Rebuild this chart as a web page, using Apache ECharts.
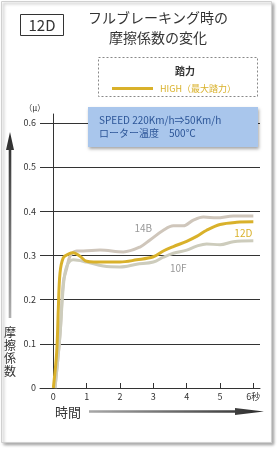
<!DOCTYPE html>
<html><head><meta charset="utf-8">
<script src="https://cdn.jsdelivr.net/npm/echarts@6/dist/echarts.min.js"></script>
<style>html,body{margin:0;padding:0;background:#fff;}#c{width:280px;height:450px;}</style>
</head><body><div id="c"></div>
<script>
const xTicks = [0, 1, 2, 3, 4, 5, 6];
const yTicks = [0, 0.1, 0.2, 0.3, 0.4, 0.5, 0.6];

const t12D = [0, 0.1, 0.15, 0.2, 0.3, 0.45, 0.6, 0.8, 1.0, 1.5, 2.0, 2.5, 3.0, 3.3, 3.6, 4.0, 4.3, 4.6, 5.0, 5.5, 6.0];
const v12D = [0, 0.08, 0.18, 0.26, 0.295, 0.303, 0.306, 0.298, 0.287, 0.285, 0.285, 0.29, 0.297, 0.31, 0.32, 0.332, 0.343, 0.357, 0.37, 0.375, 0.376];

const t14B = [0.05, 0.2, 0.3, 0.4, 0.5, 0.7, 0.9, 1.4, 2.1, 2.6, 2.9, 3.3, 3.6, 3.9, 4.2, 4.5, 4.9, 5.4, 6.0];
const v14B = [0, 0.12, 0.24, 0.27, 0.298, 0.31, 0.31, 0.312, 0.308, 0.319, 0.335, 0.357, 0.367, 0.367, 0.38, 0.387, 0.385, 0.389, 0.389];

const t10F = [0.05, 0.2, 0.3, 0.4, 0.6, 1.0, 1.5, 2.0, 2.5, 3.0, 3.3, 3.6, 4.0, 4.3, 4.6, 5.0, 5.4, 6.0];
const v10F = [0, 0.12, 0.23, 0.275, 0.29, 0.285, 0.276, 0.274, 0.28, 0.285, 0.296, 0.305, 0.312, 0.321, 0.326, 0.324, 0.331, 0.333];

const legendName = 'HIGH（最大踏力）';
const FONT = '"Noto Sans CJK JP", "Noto Sans", sans-serif';
const GOLD = '#d9b12a';

function pairs(t, v) { return t.map((x, i) => [x, v[i]]); }
function tag(text, x, y, color) {
  return {
    symbol: 'circle', symbolSize: 1, silent: true,
    itemStyle: { color: 'rgba(0,0,0,0)' },
    label: { show: true, position: 'inside', formatter: text, color: color, fontSize: 10, fontFamily: FONT },
    data: [{ coord: [x, y] }]
  };
}

const chart = echarts.init(document.getElementById('c'), null, { renderer: 'canvas' });
chart.setOption({
  animation: false,
  textStyle: { fontFamily: FONT },
  grid: { left: 40, right: 20, top: 114, bottom: 62 },
  legend: {
    left: 107, top: 79, itemWidth: 41, itemHeight: 3, itemGap: 8,
    data: [{ name: legendName, icon: 'rect' }],
    textStyle: { color: GOLD, fontSize: 9, fontFamily: FONT, padding: [0, 0, 0, 2] },
    selectedMode: false
  },
  xAxis: {
    type: 'value', min: -0.4, max: 6.2,
    axisLine: { lineStyle: { color: '#333', width: 1 } },
    axisTick: { show: true, inside: true, length: 5, customValues: xTicks, lineStyle: { color: '#333' } },
    axisLabel: { customValues: xTicks, color: '#333', fontSize: 9, margin: 4,
      formatter: v => v === 6 ? '6秒' : String(v) },
    splitLine: { show: false }
  },
  yAxis: {
    type: 'value', min: 0, max: 0.62,
    name: '（μ）', nameLocation: 'end', nameGap: 2,
    nameTextStyle: { color: '#333', fontSize: 8, align: 'right', padding: [0, 8, 0, 0] },
    axisLine: { show: true, lineStyle: { color: '#333', width: 1 } },
    axisTick: { show: false, customValues: yTicks },
    axisLabel: { customValues: yTicks, color: '#333', fontSize: 9, margin: 4,
      formatter: v => v === 0 ? '0' : v.toFixed(1) },
    splitLine: { show: true, lineStyle: { color: '#333', width: 1 } }
  },
  series: [
    { name: '14B', type: 'line', smooth: 0.35, symbol: 'none', data: pairs(t14B, v14B),
      lineStyle: { color: '#cfc6bb', width: 3 }, itemStyle: { color: '#cfc6bb' },
      markPoint: tag('14B', 2.7, 0.362, '#999') },
    { name: '10F', type: 'line', smooth: 0.35, symbol: 'none', data: pairs(t10F, v10F),
      lineStyle: { color: '#cdccbc', width: 3 }, itemStyle: { color: '#cdccbc' },
      markPoint: tag('10F', 3.75, 0.272, '#999') },
    { name: legendName, type: 'line', smooth: 0.35, symbol: 'none', data: pairs(t12D, v12D),
      lineStyle: { color: GOLD, width: 3 }, itemStyle: { color: GOLD },
      markPoint: tag('12D', 5.7, 0.351, GOLD) }
  ],
  graphic: [
    { type: 'rect', z: -10, shape: { x: 1.5, y: 1.5, width: 270, height: 441 },
      style: { fill: '#fff', stroke: '#d0d0d0', lineWidth: 1, shadowBlur: 3, shadowOffsetX: 2, shadowOffsetY: 2, shadowColor: 'rgba(0,0,0,0.35)' } },
    { type: 'rect', shape: { x: 20.5, y: 14.5, width: 43, height: 21 },
      style: { fill: 'none', stroke: '#333', lineWidth: 1 } },
    { type: 'text', x: 42, y: 25, style: { text: '12D', fill: '#333', font: '15px ' + FONT, align: 'center', verticalAlign: 'middle' } },
    { type: 'text', x: 158, y: 18, style: { text: 'フルブレーキング時の', fill: '#333', font: '14px ' + FONT, align: 'center', verticalAlign: 'middle' } },
    { type: 'text', x: 158, y: 38, style: { text: '摩擦係数の変化', fill: '#333', font: '14px ' + FONT, align: 'center', verticalAlign: 'middle' } },
    { type: 'rect', shape: { x: 98.5, y: 57.5, width: 159, height: 39 },
      style: { fill: 'none', stroke: '#888', lineWidth: 1, lineDash: [2, 2] } },
    { type: 'text', x: 185, y: 71, style: { text: '踏力', fill: '#333', font: 'bold 10px ' + FONT, align: 'center', verticalAlign: 'middle' } },
    { type: 'rect', z: 50, shape: { x: 88, y: 107, width: 170, height: 40 },
      style: { fill: '#a9c6ec', shadowBlur: 3, shadowOffsetX: 1, shadowOffsetY: 2, shadowColor: 'rgba(0,0,0,0.35)' } },
    { type: 'text', z: 51, x: 99, y: 120, style: { text: 'SPEED 220Km/h⇒50Km/h', fill: '#2c5597', font: '10px ' + FONT, verticalAlign: 'middle' } },
    { type: 'text', z: 51, x: 99, y: 133.5, style: { text: 'ローター温度　500℃', fill: '#2c5597', font: '10px ' + FONT, verticalAlign: 'middle' } },
    { type: 'polygon', shape: { points: [[10, 132], [14, 150], [11.3, 150], [11.3, 318], [8.7, 318], [8.7, 150], [6, 150]] },
      style: { fill: new echarts.graphic.LinearGradient(0, 0, 0, 1, [{ offset: 0, color: '#2a2a2a' }, { offset: 1, color: '#b0b0b0' }]) } },
    { type: 'text', x: 10, y: 352, style: { text: '摩\n擦\n係\n数', fill: '#333', font: '12px ' + FONT, align: 'center', verticalAlign: 'middle', lineHeight: 13 } },
    { type: 'text', x: 68, y: 412, style: { text: '時間', fill: '#333', font: '13px ' + FONT, align: 'center', verticalAlign: 'middle' } },
    { type: 'polygon', shape: { points: [[89, 410.2], [235, 410.2], [235, 408], [264, 411.5], [235, 415], [235, 412.8], [89, 412.8]] },
      style: { fill: new echarts.graphic.LinearGradient(0, 0, 1, 0, [{ offset: 0, color: '#a8a8a8' }, { offset: 1, color: '#2a2a2a' }]) } }
  ]
});
</script></body></html>
